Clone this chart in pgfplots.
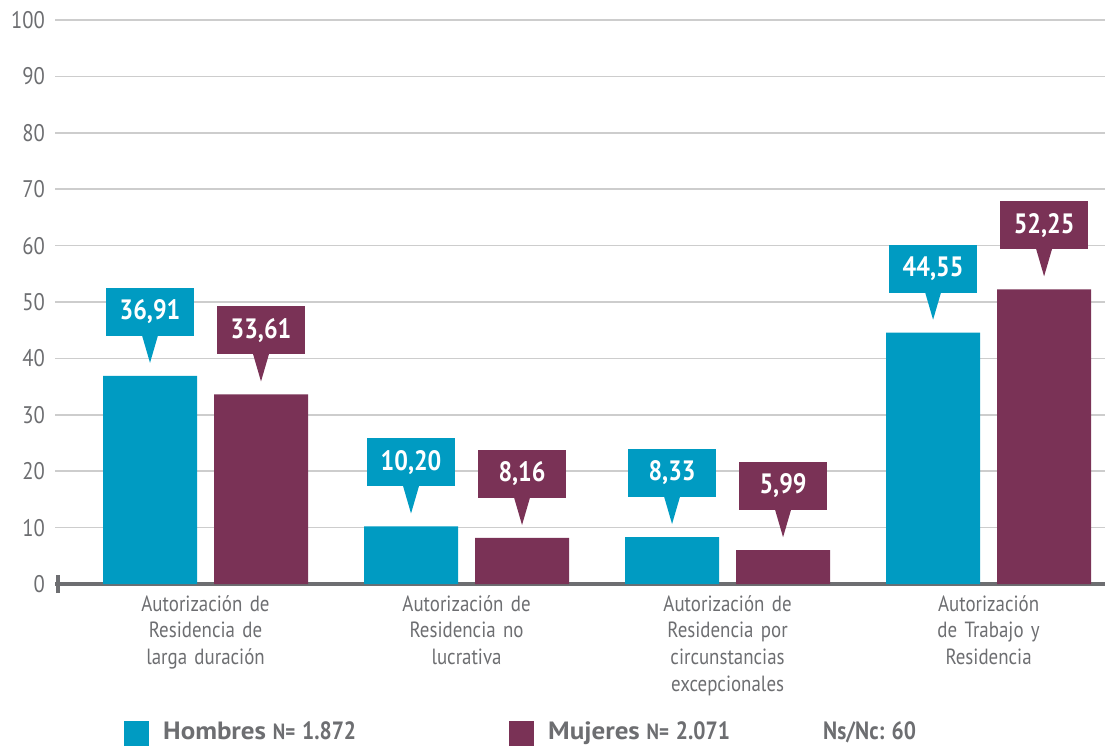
\documentclass[border=0pt]{standalone}
\usepackage{fontspec}
\setmainfont{PT Sans}[FakeStretch=0.86]
\newfontfamily\legfont{PT Sans}[FakeStretch=1.08]
\usepackage{pgfplots}
\pgfplotsset{compat=1.18}
\usetikzlibrary{calc}
\definecolor{teal2}{HTML}{009BC2}
\definecolor{maroon2}{HTML}{7A3256}
\definecolor{txtgray}{HTML}{6D6E71}
\definecolor{gridgray}{HTML}{CDCDCD}
\tikzset{callout/.style={fill=#1, append after command={\pgfextra{%
  \fill[#1] ($(\tikzlastnode.south)+(-8pt,0.5pt)$) -- ($(\tikzlastnode.south)+(8pt,0.5pt)$) -- ($(\tikzlastnode.south)+(0pt,-27pt)$) -- cycle;}}}}
\newcommand{\cond}{\rmfamily\bfseries}
\begin{document}
\begin{tikzpicture}
\begin{axis}[
  name=ax,
  scale only axis,
  width=1050pt, height=564pt,
  xmin=-0.5766, xmax=3.446,
  ymin=0, ymax=100,
  ybar=17pt, bar width=94pt,
  xtick={0,1,2,3},
  xticklabels={{Autorización de\\Residencia de\\larga duración},
               {Autorización de\\Residencia no\\lucrativa},
               {Autorización de\\Residencia por\\circunstancias\\excepcionales},
               {Autorización\\de Trabajo y\\Residencia}},
  ytick={0,10,...,100},
  ymajorgrids,
  grid style={gridgray, line width=1.6pt},
  axis x line*=bottom, axis y line*=left,
  x axis line style={txtgray, line width=4pt, -},
  y axis line style={draw=none},
  major tick length=0pt,
  tick style={draw=none},
  /pgf/number format/assume math mode=true,
  yticklabel style={font=\fontsize{24}{24}\selectfont, text=txtgray, inner sep=0pt, xshift=-10pt},
  xticklabel style={font=\fontsize{22}{26.7}\selectfont, text=txtgray, align=center, text width=200pt, inner sep=0pt, yshift=-11pt},
  nodes near coords={\pgfmathprintnumber[fixed,fixed zerofill,precision=2,use comma]{\pgfplotspointmeta}},
  every node near coord/.append style={text=white,
     font=\bfseries\fontsize{28}{28}\selectfont, minimum width=88pt, minimum height=48pt,
     inner sep=0pt, anchor=south, yshift=40pt},
  legend style={at={(axis description cs:0.0657,-0.2429)}, anchor=north west, draw=none, fill=none,
     legend columns=3, inner sep=0pt, font=\legfont\bfseries\fontsize{25}{25}\selectfont, text=txtgray,
     /tikz/every odd column/.style={column sep=14pt},
     /tikz/every even column/.style={column sep=0pt},
     nodes={inner sep=0pt}},
  legend cell align=left,
  clip=false,
]
\addplot[fill=teal2, draw=none,
  every node near coord/.append style={callout=teal2},
  legend image code/.code={\fill[teal2] (0pt,-15pt) rectangle (25pt,10pt);}]
  coordinates {(0,36.91) (1,10.20) (2,8.33) (3,44.55)};
\addlegendentry{\makebox[346pt][l]{Hombres {\cond\fontsize{22}{22}\selectfont N=} {\cond 1.872}}}
\addplot[fill=maroon2, draw=none,
  every node near coord/.append style={callout=maroon2},
  legend image code/.code={\fill[maroon2] (0pt,-15pt) rectangle (25pt,10pt);}]
  coordinates {(0,33.61) (1,8.16) (2,5.99) (3,52.25)};
\addlegendentry{\makebox[261pt][l]{Mujeres {\cond\fontsize{22}{22}\selectfont N=} {\cond 2.071}}}
\addlegendimage{empty legend}
\addlegendentry{{\cond Ns/Nc: 60}}
\end{axis}
\draw[txtgray, line width=4pt] ($(ax.south west)+(2.5pt,-9pt)$) -- ($(ax.south west)+(2.5pt,9pt)$);
\pgfresetboundingbox
\path ($(ax.south west)+(-55pt,-163pt)$) rectangle ($(ax.north east)+(0pt,20pt)$);
\end{tikzpicture}
\end{document}
